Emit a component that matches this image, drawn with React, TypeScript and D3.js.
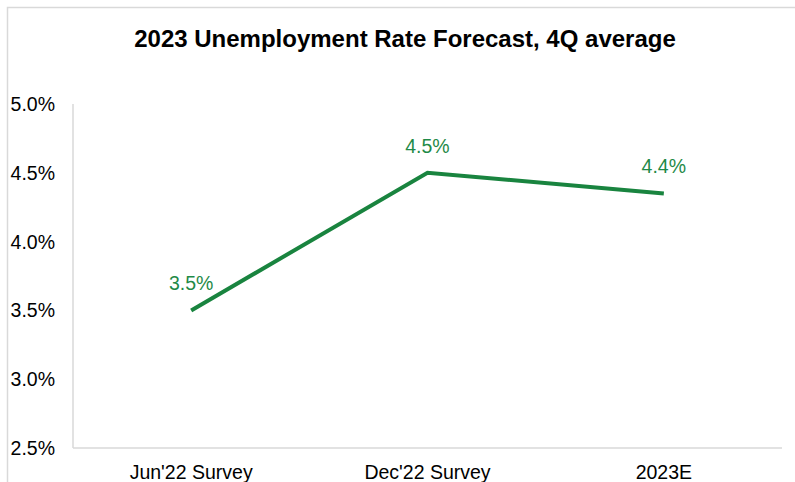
import React from "react";
import * as d3 from "d3";

const categories = ["Jun'22 Survey", "Dec'22 Survey", "2023E"];
const values = [3.5, 4.5, 4.35];
const valueLabels = ["3.5%", "4.5%", "4.4%"];
const yTicks = [2.5, 3.0, 3.5, 4.0, 4.5, 5.0];
const title = "2023 Unemployment Rate Forecast, 4Q average";

export default function App() {
  const W = 795, H = 482;
  const left = 73, right = 782, top = 104, bottom = 448;
  const x = d3.scaleBand<string>().domain(categories).range([left, right]);
  const y = d3.scaleLinear().domain([2.5, 5.0]).range([bottom, top]);
  const pts = categories.map((c, i) => [x(c)! + x.bandwidth() / 2, y(values[i])] as [number, number]);
  const line = d3.line()(pts) || "";
  const green = "#19843f";
  const font = "'Liberation Sans', Arial, sans-serif";
  return (
    <svg width={W} height={H} style={{ position: "absolute", left: 0, top: 0, background: "#fff" }} fontFamily={font}>
      <rect x={7.5} y={7.5} width={820} height={520} fill="#fff" stroke="#d9d9d9" strokeWidth={1.5} />
      <text x={405} y={47} textAnchor="middle" fontSize={24} fontWeight="bold" fill="#000">{title}</text>
      <line x1={left} x2={left} y1={top} y2={bottom} stroke="#d9d9d9" strokeWidth={1.5} />
      <line x1={left} x2={right} y1={bottom} y2={bottom} stroke="#d9d9d9" strokeWidth={1.5} />
      {yTicks.map((t) => (
        <text key={t} x={55} y={y(t)} dy="0.36em" textAnchor="end" fontSize={19.5} fill="#000">
          {t.toFixed(1) + "%"}
        </text>
      ))}
      {categories.map((c) => (
        <text key={c} x={x(c)! + x.bandwidth() / 2} y={479} textAnchor="middle" fontSize={19.5} fill="#000">
          {c}
        </text>
      ))}
      <path d={line} fill="none" stroke={green} strokeWidth={4} strokeLinejoin="miter" />
      {pts.map((p, i) => (
        <text key={i} x={p[0]} y={p[1] - 20} textAnchor="middle" fontSize={19.5} fill="#1f8a48">
          {valueLabels[i]}
        </text>
      ))}
    </svg>
  );
}
